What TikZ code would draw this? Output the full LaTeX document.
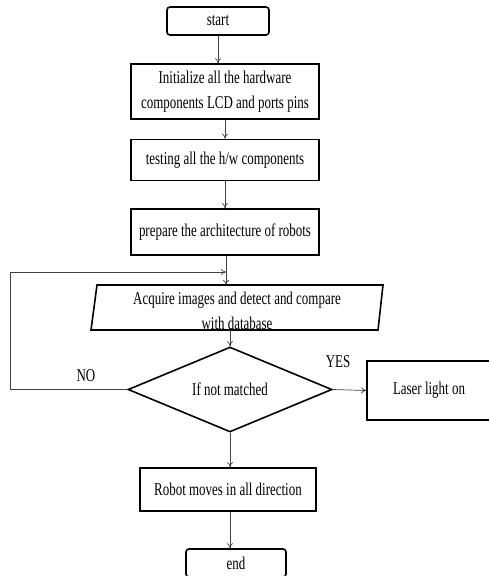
\documentclass[tikz,border=0pt]{standalone}
\usepackage{fontspec}
\setmainfont{Liberation Serif}[FakeStretch=0.72]
\usetikzlibrary{shapes.geometric,arrows.meta}

\tikzset{
  box/.style={draw,line width=1.6pt,align=center,inner sep=2pt},
  term/.style={box,rounded corners=3pt},
  flow/.style={draw=black!75,line width=0.7pt,-{To[length=5pt,width=6pt]}},
  lbl/.style={inner sep=0pt}
}

\begin{document}
\begin{tikzpicture}[x=1pt,y=-1pt,font=\fontsize{18pt}{25pt}\selectfont]
\useasboundingbox (0,0) rectangle (489,576);
\node[term,minimum width=102pt,minimum height=28pt] (start) at (218,21) {start};
\node[box,minimum width=188pt,minimum height=55pt] (init) at (225,91.5) {Initialize all the hardware\\components LCD and ports pins};
\node[box,minimum width=188pt,minimum height=41pt] (test) at (225,160) {testing all the h/w components};
\node[box,minimum width=188pt,minimum height=46pt] (prep) at (225,232) {prepare the architecture of robots};
% input/output box
\draw[line width=1.6pt,line join=miter] (91,330) -- (97,285) -- (383,285) -- (378,330) -- cycle;
\node[minimum width=292pt,minimum height=45pt,inner sep=0pt] (acq) at (237,307.5) {};
\node[lbl,align=center] (acqtxt) at (237,311) {Acquire images and detect and compare\\with database};
\node[draw,line width=1.6pt,diamond,aspect=2.4,minimum width=204pt,minimum height=85pt,inner sep=0pt] (dec) at (230,389.5) {If not matched};
\node[box,minimum width=124pt,minimum height=59pt] (laser) at (429,390.5) {Laser light on};
\node[box,minimum width=176pt,minimum height=43pt] (robot) at (228,489.5) {Robot moves in all direction};
\node[term,minimum width=100pt,minimum height=28pt] (end) at (236,563) {end};
\node[lbl] (yes) at (338,362) {YES};
\node[lbl] (no) at (86,376) {NO};
\coordinate (join) at (226,272);
\coordinate (lefttop) at (10,272);

\draw[flow] (start.south) -- (start.south |- init.north);
\draw[flow] (init.south) -- (test.north);
\draw[flow] (test.south) -- (prep.north);
\draw[flow] (prep.south -| join) -- (join |- acq.north);
\draw[flow] (acq.south -| dec.north) -- (dec.north);
\draw[flow] (dec.west) -| (lefttop) -- (join);
\draw[flow] (dec.east) -- (laser.west);
\draw[flow] (dec.south) -- (dec.south |- robot.north);
\draw[flow] (robot.south -| dec.south) -- (end.north -| dec.south);
\end{tikzpicture}
\end{document}
